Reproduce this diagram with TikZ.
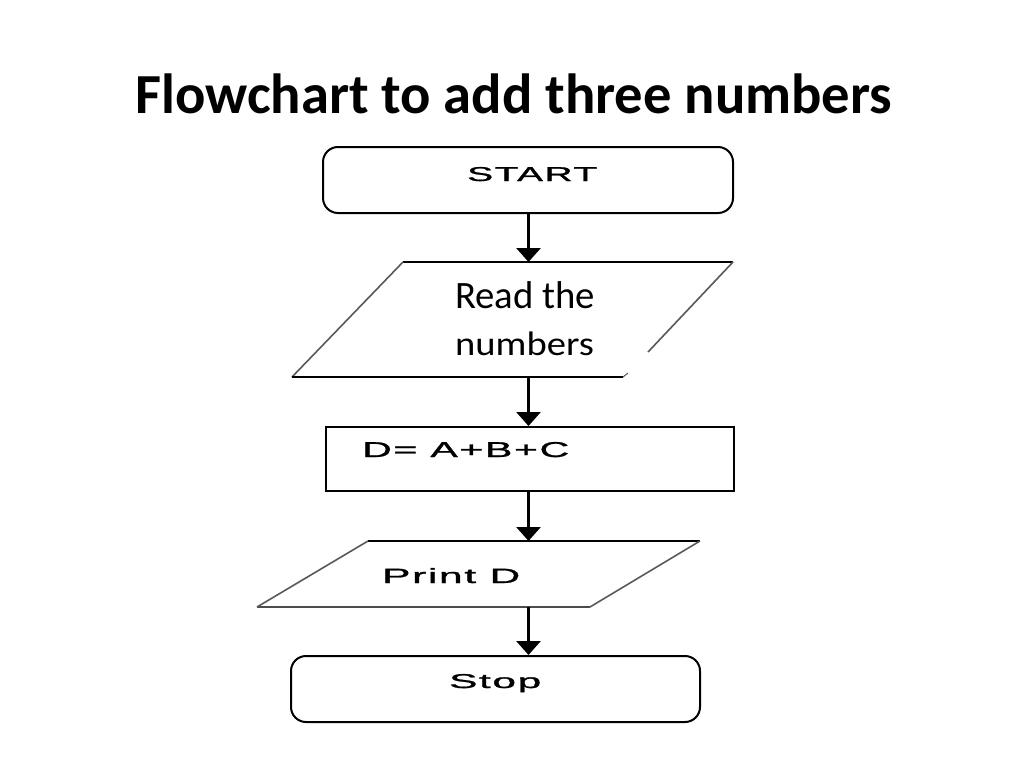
\documentclass[tikz,border=0pt]{standalone}
\usepackage{fontspec}
\setmainfont{Carlito}
\newfontfamily\boxfont{Liberation Sans}[LetterSpace=4,FakeBold=1]
\usetikzlibrary{arrows.meta}
\tikzset{
  flow/.style={-{Triangle[width=24pt,length=14pt]}, line width=3pt},
  termbox/.style={draw, line width=2pt, rounded corners=15pt, minimum width=410pt, minimum height=66pt, inner sep=0pt},
  procbox/.style={draw, line width=2pt, minimum width=408pt, minimum height=64pt, inner sep=0pt},
  slant/.style={draw=black!65, line width=1.6pt},
  flat/.style={draw=black, line width=2pt},
  boxtxt/.style={anchor=base west, inner sep=0pt},
}
\newcommand{\bt}[3]{\boxfont\resizebox{#1pt}{#2pt}{#3}}
\begin{document}
\begin{tikzpicture}[x=1pt,y=-1pt]
\useasboundingbox[fill=white] (0,0) rectangle (1024,768);
% title
\node[anchor=base west, inner sep=0pt, font=\bfseries\fontsize{55}{64}\selectfont] (title) at (135,113) {\resizebox{757pt}{!}{Flowchart to add three numbers}};
% start
\node[termbox] (start) at (528,180) {};
\node[boxtxt] (starttxt) at (467,181) {\bt{130}{14}{START}};
% read parallelogram (partially drawn, as in the reference)
\coordinate (p1tl) at (403,262);
\coordinate (p1tr) at (733,262);
\coordinate (p1re) at (648,352);
\coordinate (p1bl) at (292,377);
\coordinate (p1br) at (623,377);
\coordinate (p1bt) at (628,373);
\coordinate (p1top) at (528.5,262);
\coordinate (p1bot) at (528.5,377);
\draw[flat] (p1tl) -- (p1tr);
\draw[slant] (p1tr) -- (p1re);
\draw[slant] (p1bl) -- (p1tl);
\draw[flat] (p1bl) -- (p1br);
\draw[slant, line width=1pt] (p1br) -- (p1bt);
\node[boxtxt, font=\fontsize{34}{47}\selectfont] (readtxt1) at (455,308) {\resizebox{140pt}{!}{Read the}};
\node[boxtxt, font=\fontsize{34}{47}\selectfont] (readtxt2) at (455,355) {\scalebox{1.135}[1]{numbers}};
% process
\node[procbox] (calc) at (530,459) {};
\node[boxtxt] (calctxt) at (362,457) {\bt{207}{15}{D= A+B+C}};
% print parallelogram
\coordinate (p2tl) at (368,541);
\coordinate (p2tr) at (700,541);
\coordinate (p2br) at (590,607);
\coordinate (p2bl) at (257,607);
\coordinate (p2top) at (528.5,541);
\coordinate (p2bot) at (528.5,607);
\draw[flat] (p2tl) -- (p2tr);
\draw[slant] (p2tr) -- (p2br);
\draw[flat, draw=black!70, line width=1.6pt] (p2br) -- (p2bl);
\draw[slant] (p2bl) -- (p2tl);
\node[boxtxt] (printtxt) at (382,583) {\bt{138}{15}{Print D}};
% stop
\node[termbox, minimum width=409pt] (stop) at (495.5,689) {};
\node[boxtxt] (stoptxt) at (449,688) {\bt{92}{14}{Stop}};
% connectors
\draw[flow] (start.south -| p1top) -- (p1top);
\draw[flow] (p1bot) -- (calc.north -| p1bot);
\draw[flow] (calc.south -| p2top) -- (p2top);
\draw[flow] (p2bot) -- (stop.north -| p2bot);
\end{tikzpicture}
\end{document}
